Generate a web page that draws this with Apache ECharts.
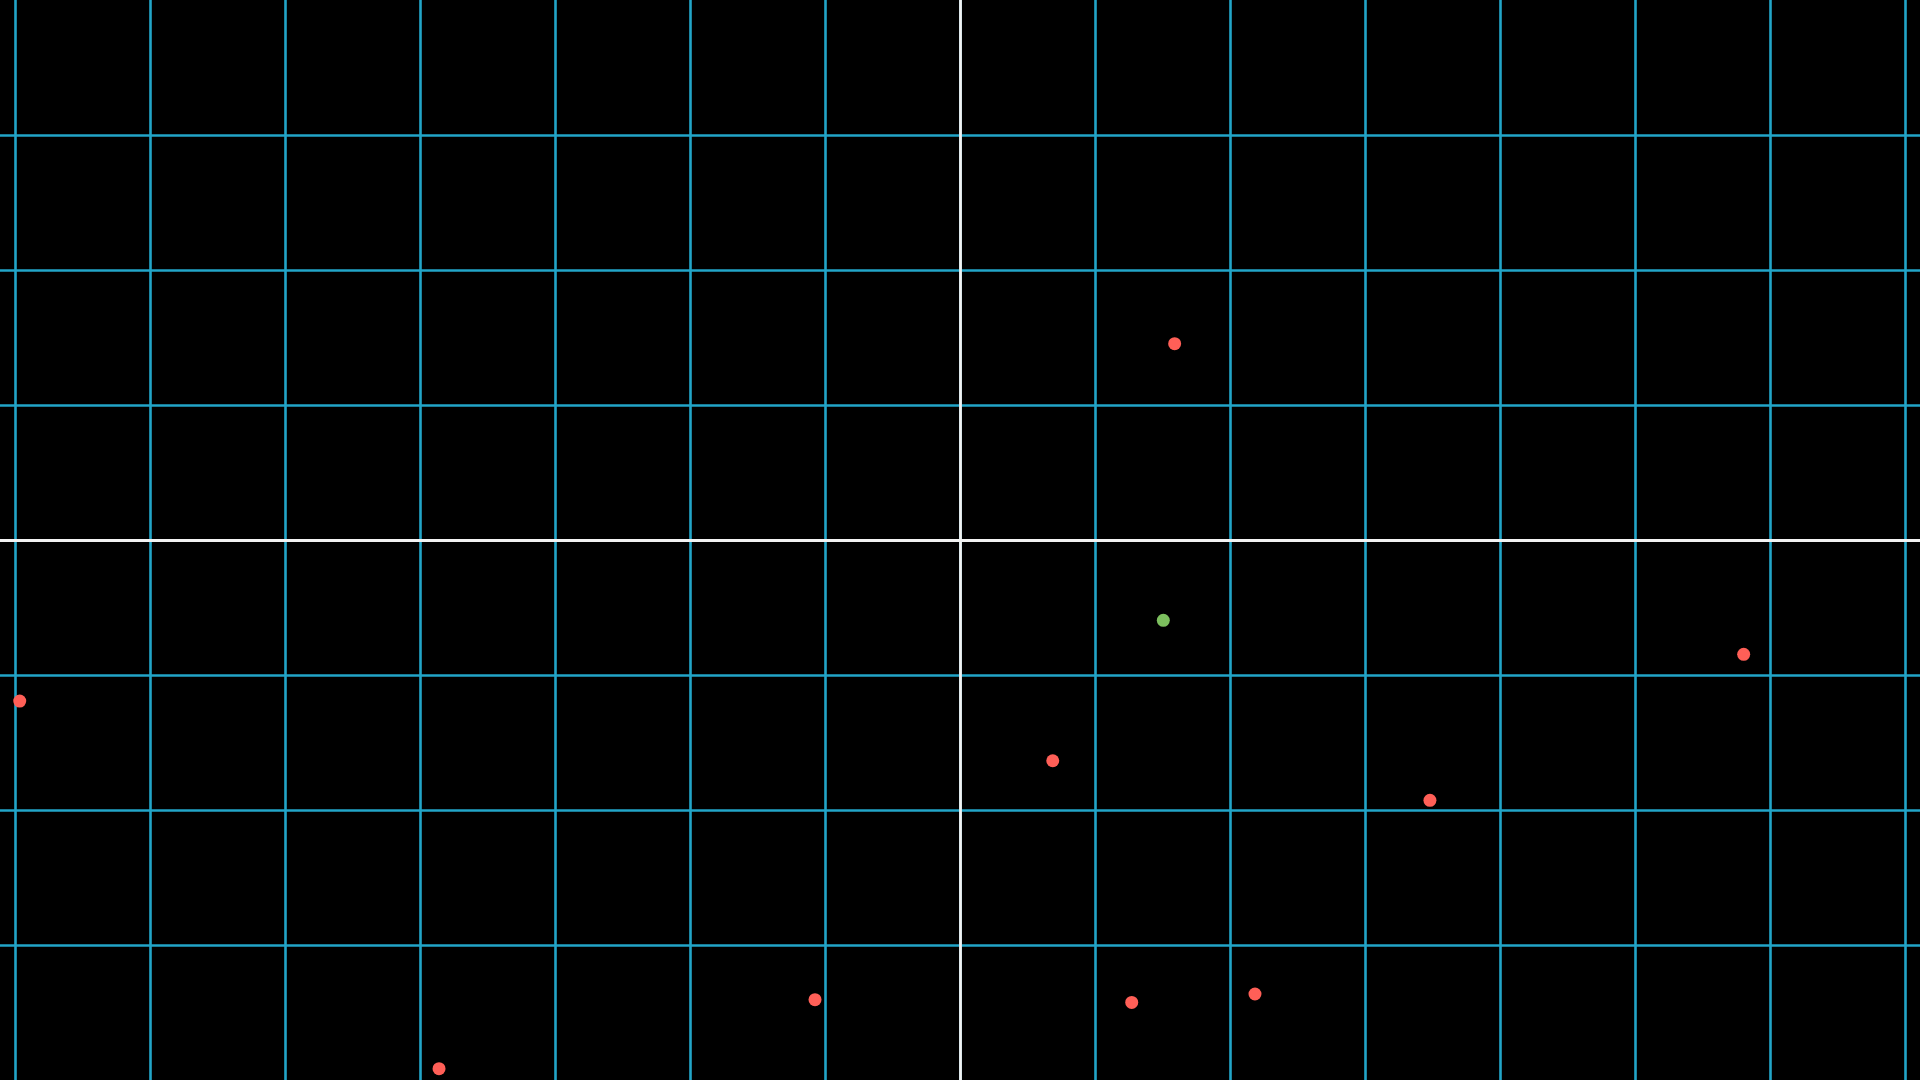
<!DOCTYPE html>
<html>
<head>
<meta charset="utf-8">
<style>
  html, body { margin: 0; padding: 0; background: #000; }
  #chart { width: 1920px; height: 1080px; }
</style>
<script src="https://cdn.jsdelivr.net/npm/echarts@6/dist/echarts.min.js"></script>
</head>
<body>
<div id="chart"></div>
<script>
const redX = [1.59, -6.965, 0.687, 3.481, 5.805, 1.272, 2.185, -3.859, -1.074];
const redY = [1.454, -1.193, -1.635, -1.928, -0.847, -3.425, -3.363, -3.916, -3.405];
const greenX = [1.506];
const greenY = [-0.595];
const xTicks = [-7, -6, -5, -4, -3, -2, -1, 0, 1, 2, 3, 4, 5, 6, 7];

const xHalf = 960 / 135, yMin = -4, yMax = 4, step = 1;

const chart = echarts.init(document.getElementById('chart'));
chart.setOption({
  backgroundColor: '#000000',
  animation: false,
  grid: { left: 0, right: 0, top: 0, bottom: 0, containLabel: false },
  xAxis: {
    type: 'value', min: -xHalf, max: xHalf,
    axisLine: { show: true, onZero: true, lineStyle: { color: '#f2f2f2', width: 2.8 } },
    axisTick: { show: false, customValues: xTicks },
    axisLabel: { show: false, customValues: xTicks },
    splitLine: { show: true, lineStyle: { color: '#22a5c8', width: 2.6 } }
  },
  yAxis: {
    type: 'value', min: yMin, max: yMax, interval: step,
    axisLine: { show: true, onZero: true, lineStyle: { color: '#f2f2f2', width: 2.8 } },
    axisTick: { show: false },
    axisLabel: { show: false },
    splitLine: { show: true, showMinLine: false, showMaxLine: false, lineStyle: { color: '#22a5c8', width: 2.6 } }
  },
  series: [
    {
      type: 'scatter', symbolSize: 13, clip: false,
      itemStyle: { color: '#ff5f57', opacity: 1 },
      data: redX.map((x, i) => [x, redY[i]])
    },
    {
      type: 'scatter', symbolSize: 13, clip: false,
      itemStyle: { color: '#7cbf5e', opacity: 1 },
      data: greenX.map((x, i) => [x, greenY[i]])
    }
  ]
});
</script>
</body>
</html>
